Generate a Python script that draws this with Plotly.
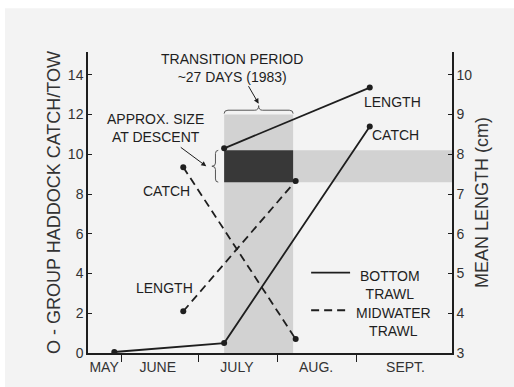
import datetime as dt
import plotly.graph_objects as go

# ---- data (1983 season) ----
bottom_catch_dates = ["1983-05-29", "1983-07-11", "1983-09-06"]
bottom_catch = [0.05, 0.5, 11.4]
bottom_length_dates = ["1983-07-11", "1983-09-06"]
bottom_length = [8.15, 9.68]

midwater_dates = ["1983-06-25", "1983-08-08"]
midwater_catch = [9.35, 0.7]
midwater_length = [4.05, 7.33]

transition_start = "1983-07-11"
transition_end = "1983-08-07"
transition_catch_top = 12.0
descent_size = [7.3, 8.1]  # cm

month_starts = ["1983-06-01", "1983-07-01", "1983-08-01", "1983-09-01"]
month_label_dates = ["1983-05-25", "1983-06-15", "1983-07-16", "1983-08-16", "1983-09-20"]
month_labels = ["MAY", "JUNE", "JULY", "AUG.", "SEPT."]

catch_ticks = [0, 2, 4, 6, 8, 10, 12, 14]
length_ticks = [3, 4, 5, 6, 7, 8, 9, 10]

x_range = [138.7, 281.2]
catch_range = [0, 15.15]
length_range = [3, 3 + 15.15 / 2]


def doy(s):
    return dt.date.fromisoformat(s).timetuple().tm_yday


def doys(lst):
    return [doy(s) for s in lst]


FONT = "Liberation Sans, Arial, sans-serif"
INK = "#1e1e1e"
BG = "#f3f3f3"
LIGHT = "#d2d2d2"
DARK = "#383838"

fig = go.Figure()

line_solid = dict(color=INK, width=1.8)
line_dash = dict(color=INK, width=1.8, dash="8px,5px")
mk = dict(color=INK, size=6)

fig.add_trace(go.Scatter(x=doys(bottom_catch_dates), y=bottom_catch, mode="lines+markers",
                         line=line_solid, marker=mk, yaxis="y"))
fig.add_trace(go.Scatter(x=doys(bottom_length_dates), y=bottom_length, mode="lines+markers",
                         line=line_solid, marker=mk, yaxis="y2"))
fig.add_trace(go.Scatter(x=doys(midwater_dates), y=midwater_catch, mode="lines+markers",
                         line=line_dash, marker=mk, yaxis="y"))
fig.add_trace(go.Scatter(x=doys(midwater_dates), y=midwater_length, mode="lines+markers",
                         line=line_dash, marker=mk, yaxis="y2"))

t0, t1 = doy(transition_start), doy(transition_end)
tm = (t0 + t1) / 2

shapes = [
    # white frame strips around the grey panel
    dict(type="rect", xref="paper", yref="paper", x0=-0.3, x1=1.3, y0=1.145, y1=1.3,
         fillcolor="white", line_width=0, layer="below"),
    dict(type="rect", xref="paper", yref="paper", x0=-0.3, x1=-0.228, y0=-0.2, y1=1.3,
         fillcolor="white", line_width=0, layer="below"),
    # transition period band
    dict(type="rect", xref="x", yref="y", x0=t0, x1=t1, y0=0, y1=transition_catch_top,
         fillcolor=LIGHT, line_width=0, layer="below"),
    # approximate size at descent band
    dict(type="rect", xref="x", yref="y2", x0=t0, x1=x_range[1], y0=descent_size[0], y1=descent_size[1],
         fillcolor=LIGHT, line_width=0, layer="below"),
    dict(type="rect", xref="x", yref="y2", x0=t0, x1=t1, y0=descent_size[0], y1=descent_size[1],
         fillcolor=DARK, line_width=0, layer="below"),
]

# brace over the transition period
yb0, yb1, ybt = transition_catch_top + 0.05, transition_catch_top + 0.22, transition_catch_top + 0.45
brace_top = (f"M {t0},{yb0} Q {t0},{yb1} {t0+1.5},{yb1} L {tm-1.5},{yb1} "
             f"Q {tm},{yb1} {tm},{ybt} Q {tm},{yb1} {tm+1.5},{yb1} "
             f"L {t1-1.5},{yb1} Q {t1},{yb1} {t1},{yb0}")
shapes.append(dict(type="path", xref="x", yref="y", path=brace_top,
                   line=dict(color="#555", width=1)))

# brace beside the size-at-descent range
lo, hi = descent_size
mid = (lo + hi) / 2
xe, xs, xt = t0 - 2.3, t0 - 3.4, t0 - 4.8
brace_left = (f"M {xe},{lo} Q {xs},{lo} {xs},{lo+0.08} L {xs},{mid-0.08} "
              f"Q {xs},{mid} {xt},{mid} Q {xs},{mid} {xs},{mid+0.08} "
              f"L {xs},{hi-0.08} Q {xs},{hi} {xe},{hi}")
shapes.append(dict(type="path", xref="x", yref="y2", path=brace_left,
                   line=dict(color="#555", width=1)))

# legend keys
shapes += [
    dict(type="line", xref="paper", yref="paper", x0=0.613, x1=0.72, y0=0.267, y1=0.267,
         line=dict(color=INK, width=1.8)),
    dict(type="line", xref="paper", yref="paper", x0=0.613, x1=0.72, y0=0.142, y1=0.142,
         line=dict(color=INK, width=1.8, dash="8px,5px")),
]

tf = dict(family=FONT, size=14, color=INK)
ann = []


def label(text, x, y, xref="x", yref="y", yanchor="middle"):
    ann.append(dict(text=text, x=x, y=y, xref=xref, yref=yref, showarrow=False,
                    font=tf, xanchor="center", yanchor=yanchor, align="center"))


label("TRANSITION PERIOD<br>~27 DAYS (1983)", 195.1, 14.35)
label("APPROX. SIZE<br>AT DESCENT", 165.3, 11.3)
label("CATCH", 169.6, 8.15)
label("LENGTH", 168.8, 3.25)
label("LENGTH", 258.1, 12.65)
label("CATCH", 258.9, 10.95)
label("BOTTOM<br>TRAWL", 0.83, 0.226, "paper", "paper")
label("MIDWATER<br>TRAWL", 0.838, 0.103, "paper", "paper")

# pointer arrows
ann.append(dict(x=tm, y=ybt + 0.1, xref="x", yref="y", text="", showarrow=True,
                arrowhead=2, arrowsize=1, arrowwidth=1, arrowcolor=INK, ax=-11, ay=-19))
ann.append(dict(x=xt - 2.2, y=mid, xref="x", yref="y2", text="", showarrow=True,
                arrowhead=2, arrowsize=1, arrowwidth=1, arrowcolor=INK, ax=-27, ay=-20))

tick_font = dict(family=FONT, size=14, color="#333")
axis_common = dict(showgrid=False, zeroline=False, showline=True, linecolor=INK, linewidth=1.5,
                   tickfont=tick_font, tickcolor=INK)

fig.update_layout(
    width=514, height=387,
    margin=dict(l=88, r=62, t=52, b=32, pad=0),
    paper_bgcolor=BG, plot_bgcolor=BG,
    showlegend=False,
    shapes=shapes, annotations=ann,
    xaxis=dict(**axis_common, range=x_range, tickmode="array",
               tickvals=doys(month_label_dates), ticktext=month_labels, ticks="",
               minor=dict(tickmode="array", tickvals=doys(month_starts), ticks="outside",
                          ticklen=7, tickcolor=INK, tickwidth=1.2)),
    yaxis=dict(**axis_common, range=catch_range, tickmode="array", tickvals=catch_ticks,
               ticks="inside", ticklen=4,
               title=dict(text="O - GROUP HADDOCK CATCH/TOW",
                          font=dict(family=FONT, size=18, color="#333"), standoff=3)),
    yaxis2=dict(**axis_common, range=length_range, tickmode="array", tickvals=length_ticks,
                ticks="inside", ticklen=4, overlaying="y", side="right",
                title=dict(text="MEAN LENGTH (cm)",
                           font=dict(family=FONT, size=18, color="#333"), standoff=4)),
)

fig.write_html("out.html")
